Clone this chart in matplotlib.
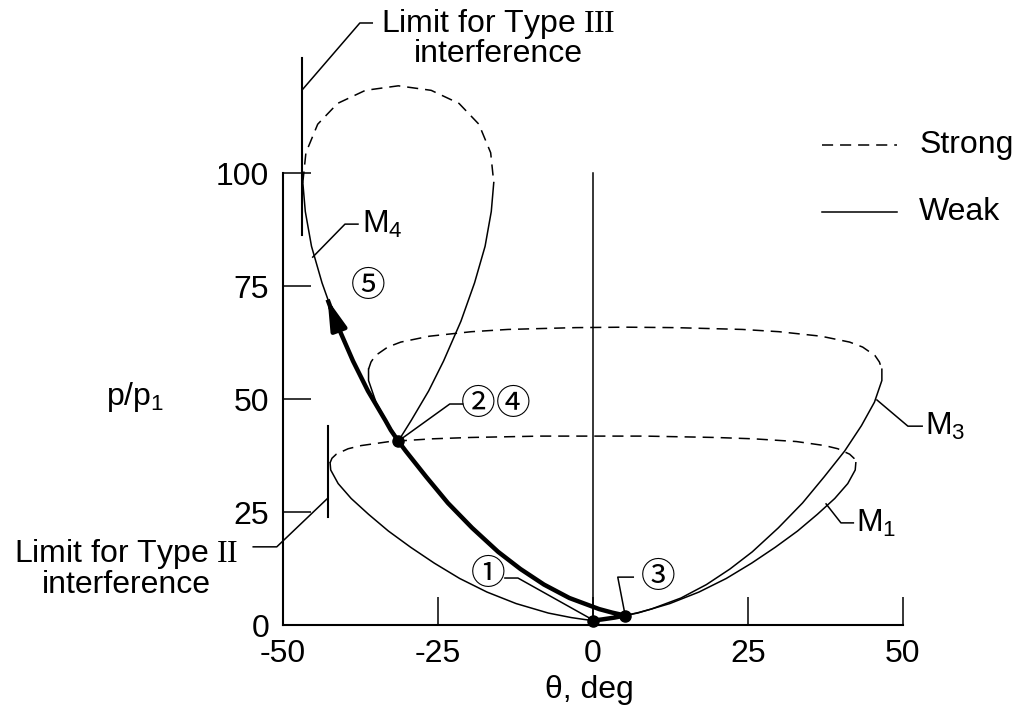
import matplotlib.pyplot as plt

plt.rcParams['font.family'] = ['Liberation Sans', 'DejaVu Sans']
plt.rcParams['mathtext.fontset'] = 'custom'
plt.rcParams['mathtext.rm'] = 'Liberation Sans'
plt.rcParams['mathtext.tt'] = 'Liberation Serif'
plt.rcParams['axes.unicode_minus'] = False
plt.rcParams['lines.scale_dashes'] = False

# shock polars (theta in deg, p/p1)
m1_weak_theta = [-42.4, -42.3, -41.1, -39.0, -36.2, -33.0, -29.4, -25.6, -21.5, -17.1, -12.4, -7.2, -3.5, -1.4, 0.0,
                 1.4, 3.5, 7.2, 12.4, 17.1, 21.5, 25.6, 29.4, 33.0, 36.2, 39.0, 41.1, 42.3, 42.4]
m1_weak_p = [35.9, 34.3, 31.3, 28.0, 24.5, 20.8, 17.2, 13.7, 10.3, 7.3, 4.75, 2.65, 1.65, 1.23, 1.0,
             1.23, 1.65, 2.65, 4.75, 7.3, 10.3, 13.7, 17.2, 20.8, 24.5, 28.0, 31.3, 34.3, 35.9]
m1_strong_theta = [-42.4, -42.1, -41.4, -39.5, -37.4, -32.8, -25.9, -19.7, -8.4, 0.0,
                   8.4, 19.7, 25.9, 32.8, 37.4, 39.5, 41.4, 42.1, 42.4]
m1_strong_p = [35.9, 36.9, 37.8, 39.0, 39.7, 40.6, 41.2, 41.5, 41.8, 41.8,
               41.8, 41.5, 41.2, 40.6, 39.7, 39.0, 37.8, 36.9, 35.9]

m3_weak_theta = [-36.2, -36.2, -35.0, -32.9, -30.2, -26.9, -23.4, -19.5, -15.3, -11.7, -7.9, -3.8, 1.0, 3.1, 5.2,
                 7.3, 9.4, 14.2, 18.3, 22.1, 25.7, 29.9, 33.8, 37.3, 40.6, 43.3, 45.4, 46.6, 46.6]
m3_weak_p = [56.6, 54.1, 49.3, 44.1, 38.5, 32.8, 27.0, 21.5, 16.2, 12.4, 8.95, 5.98, 3.53, 2.75, 2.1,
             2.75, 3.53, 5.98, 8.95, 12.4, 16.2, 21.5, 27.0, 32.8, 38.5, 44.1, 49.3, 54.1, 56.6]
m3_strong_theta = [-36.2, -35.8, -35.1, -33.1, -31.0, -26.4, -19.6, -13.7, -2.8, 5.2,
                   13.2, 24.1, 30.0, 36.8, 41.4, 43.5, 45.5, 46.2, 46.6]
m3_strong_p = [56.6, 58.2, 59.6, 61.5, 62.6, 63.9, 64.9, 65.4, 65.8, 65.9,
               65.8, 65.4, 64.9, 63.9, 62.6, 61.5, 59.6, 58.2, 56.6]

m4_weak_theta = [-46.8, -46.4, -45.4, -43.7, -41.5, -38.7, -36.3, -33.5, -32.6, -31.4,
                 -30.3, -29.3, -26.5, -24.1, -21.3, -19.1, -17.4, -16.4, -16.0]
m4_weak_p = [97.9, 91.5, 83.8, 75.7, 67.2, 58.4, 51.8, 45.3, 43.1, 40.7,
             43.1, 45.3, 51.8, 58.4, 67.2, 75.7, 83.8, 91.5, 97.9]
m4_strong_theta = [-46.8, -46.3, -44.4, -41.2, -36.7, -31.4, -26.1, -21.6, -18.4, -16.5, -16.0]
m4_strong_p = [97.9, 104.5, 110.8, 115.4, 118.3, 119.3, 118.3, 115.4, 110.8, 104.5, 97.9]

# path 1 -> 3 -> 2,4 -> 5 (thick)
path_theta = [0.0, 1.4, 3.5, 5.2, 3.1, 1.0, -3.8, -7.9, -11.7, -15.3, -19.5, -23.4, -26.9, -30.2, -31.4,
              -32.6, -33.5, -36.3, -38.7, -41.5, -42.8]
path_p = [1.0, 1.23, 1.65, 2.1, 2.75, 3.53, 5.98, 8.95, 12.4, 16.2, 21.5, 27.0, 32.8, 38.5, 40.7,
          43.1, 45.3, 51.8, 58.4, 67.2, 72.0]

state_theta = [0.0, 5.2, -31.4]
state_p = [1.0, 2.1, 40.7]

limit2_theta = [-42.7, -42.7]
limit2_p = [24.0, 44.0]
limit3_theta = [-46.9, -46.9]
limit3_p = [86.3, 125.4]

xticks = [-50, -25, 0, 25, 50]
yticks = [0, 25, 50, 75, 100]

FS = 23
thin = 1.1
dash = (8, 5)

fig = plt.figure(figsize=(10.29, 7.21), dpi=100)
ax = fig.add_axes([0.2750, 0.1331, 0.6025, 0.8463])
ax.set_xlim(-50, 50)
ax.set_ylim(0, 135)

for s in ['top', 'right']:
    ax.spines[s].set_visible(False)
ax.spines['left'].set_bounds(0, 100)
ax.spines['bottom'].set_bounds(-50, 50)
ax.spines['left'].set_linewidth(1.5)
ax.spines['bottom'].set_linewidth(1.5)
ax.set_xticks(xticks)
ax.set_yticks(yticks)
ax.tick_params(direction='in', length=20, width=1.1, labelsize=FS, pad=10)

# theta = 0 line
ax.plot([0, 0], [0, 100], color='black', lw=thin)

# polars
ax.plot(m1_weak_theta, m1_weak_p, color='black', lw=thin)
ax.plot(m1_strong_theta, m1_strong_p, color='black', lw=thin, dashes=dash)
ax.plot(m3_weak_theta, m3_weak_p, color='black', lw=thin)
ax.plot(m3_strong_theta, m3_strong_p, color='black', lw=thin, dashes=dash)
ax.plot(m4_weak_theta, m4_weak_p, color='black', lw=thin, clip_on=False)
ax.plot(m4_strong_theta, m4_strong_p, color='black', lw=thin, dashes=dash, clip_on=False)

# thick path with arrow
ax.plot(path_theta, path_p, color='black', lw=3.2, solid_joinstyle='round', solid_capstyle='butt')
ax.annotate('', xy=(path_theta[-1], path_p[-1]), xytext=(path_theta[-2], path_p[-2]),
            arrowprops=dict(arrowstyle='-|>,head_length=0.8,head_width=0.22', color='black',
                            lw=3.2, shrinkA=0, shrinkB=0, mutation_scale=22))
ax.plot(state_theta, state_p, 'o', color='black', ms=8, clip_on=False)

# interference limits
ax.plot(limit2_theta, limit2_p, color='black', lw=1.5)
ax.plot(limit3_theta, limit3_p, color='black', lw=1.5, clip_on=False)

# leaders and labels
def leader(xs, ys):
    ax.plot(xs, ys, color='black', lw=thin, clip_on=False)

leader([-46.9, -37.6, -35.6], [118.4, 133.2, 133.2])
ax.text(-15.3, 129.9, 'Limit for Type $\\mathtt{III}$\ninterference', fontsize=FS,
        ha='center', va='center', multialignment='center', linespacing=0.92)

leader([-54.8, -51.0, -42.9], [17.3, 17.3, 27.9])
ax.text(-75.3, 12.5, 'Limit for Type $\\mathtt{II}$\ninterference', fontsize=FS,
        ha='center', va='center', multialignment='center', linespacing=0.92, clip_on=False)

leader([-45.2, -40.0, -37.9], [81.4, 88.7, 88.7])
ax.text(-37.3, 88.7, r'$\mathrm{M}_4$', fontsize=FS, va='center', ha='left')
leader([45.8, 50.8, 53.1], [49.8, 44.0, 44.0])
ax.text(53.6, 44.0, r'$\mathrm{M}_3$', fontsize=FS, va='center', ha='left', clip_on=False)
leader([37.6, 40.0, 42.0], [26.8, 22.6, 22.6])
ax.text(42.5, 22.6, r'$\mathrm{M}_1$', fontsize=FS, va='center', ha='left')

circ = ['Noto Sans CJK JP', 'DejaVu Sans']
leader([-0.5, -12.1, -14.2], [1.5, 10.4, 10.4])
ax.text(-16.9, 11.1, '①', fontsize=25, family=circ, ha='center', va='center')
leader([5.2, 4.0, 6.5], [2.1, 10.6, 10.6])
ax.text(10.5, 10.6, '③', fontsize=25, family=circ, ha='center', va='center')
leader([-31.4, -23.1, -21.0], [40.7, 48.9, 48.9])
ax.text(-18.5, 48.9, '②', fontsize=25, family=circ, ha='center', va='center')
ax.text(-12.9, 48.9, '④', fontsize=25, family=circ, ha='center', va='center')
ax.text(-36.3, 74.8, '⑤', fontsize=25, family=circ, ha='center', va='center')

# legend
ax.plot([36.9, 49.0], [106.2, 106.2], color='black', lw=thin, dashes=dash, clip_on=False)
ax.text(52.6, 106.2, 'Strong', fontsize=FS, va='center', ha='left', clip_on=False)
ax.plot([36.9, 49.0], [91.4, 91.4], color='black', lw=thin, clip_on=False)
ax.text(52.6, 91.4, 'Weak', fontsize=FS, va='center', ha='left', clip_on=False)

ax.set_xlabel('θ, deg', fontsize=FS)
ax.xaxis.set_label_coords(0.495, -0.1065)
ax.xaxis.label.set_va('center')
ax.set_ylabel(r'$\mathrm{p/p}_1$', fontsize=FS, rotation=0, ha='center', va='center')
ax.yaxis.set_label_coords(-0.239, 0.373)

plt.savefig('out.png', dpi=100)
